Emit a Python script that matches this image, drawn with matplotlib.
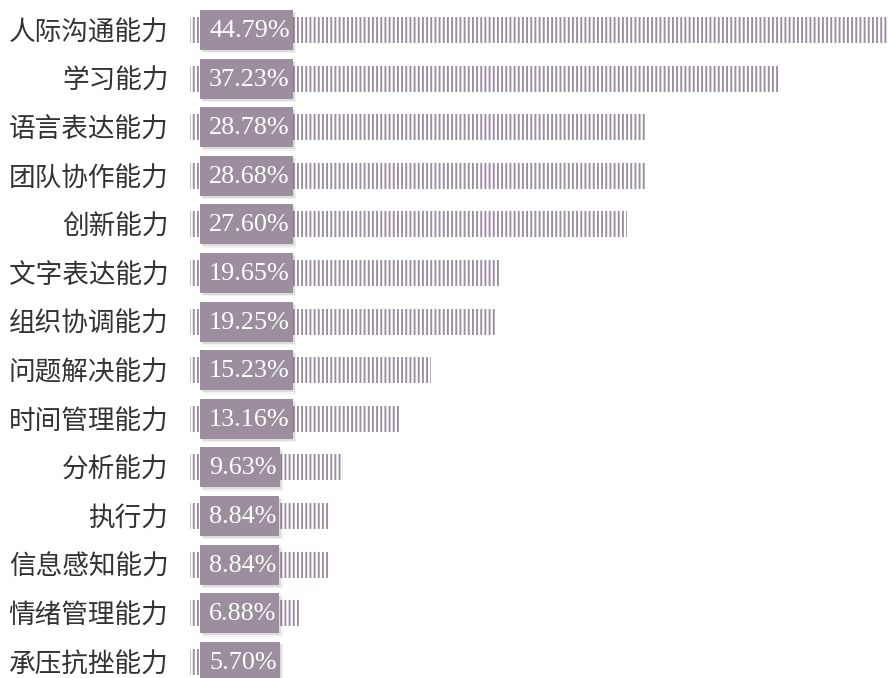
import matplotlib
matplotlib.use("Agg")
import matplotlib.pyplot as plt
import matplotlib.patheffects as pe
from matplotlib.patches import Rectangle

categories = ['人际沟通能力', '学习能力', '语言表达能力', '团队协作能力', '创新能力',
              '文字表达能力', '组织协调能力', '问题解决能力', '时间管理能力', '分析能力',
              '执行力', '信息感知能力', '情绪管理能力', '承压抗挫能力']
values = [44.79, 37.23, 28.78, 28.68, 27.60, 19.65, 19.25, 15.23, 13.16, 9.63,
          8.84, 8.84, 6.88, 5.70]
value_labels = [f"{v:.2f}%" for v in values]

BAR_COLOR = '#9b8d9f'
BOX_COLOR = '#9c8e9f'
TEXT_COLOR = '#333333'

plt.rcParams['hatch.linewidth'] = 1.35

W, H = 888, 678
fig = plt.figure(figsize=(W / 100, H / 100), dpi=100)
left_px = 190
ax = fig.add_axes([left_px / W, 0, 1 - left_px / W, 1])

px_per_unit = 15.85
ax.set_xlim(0, (W - left_px) / px_per_unit)
row_px = 48.6
top_px = 30
ax.set_ylim((H - top_px) / row_px, -top_px / row_px)

ypos = list(range(len(categories)))
ax.barh(ypos, values, height=0.535, facecolor='none', edgecolor=BAR_COLOR,
        linewidth=0, hatch='||||')

ax.set_yticks(ypos)
ax.set_yticklabels(categories, fontsize=19.2, color=TEXT_COLOR,
                   family=['Noto Sans CJK SC', 'DejaVu Sans'], fontweight='light')
ax.tick_params(axis='y', length=0, pad=15.5)
ax.set_xticks([])
for s in ax.spines.values():
    s.set_visible(False)

# value tags: a shaded box behind each percentage label
box_left_px = 200
text_pad_px = 9
box_h_px = 40
unit_per_px_x = 1 / px_per_unit
unit_per_px_y = 1 / row_px
renderer = fig.canvas.get_renderer()
shadow = [
    pe.SimplePatchShadow(offset=(2.5, -2.5), shadow_rgbFace='black', alpha=0.05),
    pe.SimplePatchShadow(offset=(1.5, -1.5), shadow_rgbFace='black', alpha=0.09),
    pe.Normal(),
]
for y, lab in zip(ypos, value_labels):
    tx = (box_left_px + text_pad_px - left_px) * unit_per_px_x
    t = ax.text(tx, y + 0.02, lab, ha='left', va='center', color='white',
                fontsize=18.8, family=['Liberation Serif'], zorder=4)
    ext = t.get_window_extent(renderer)
    x0 = (box_left_px - left_px) * unit_per_px_x
    x1 = (ext.x1 + 3 - left_px) * unit_per_px_x
    hh = box_h_px * unit_per_px_y
    r = Rectangle((x0, y - hh / 2), x1 - x0, hh, facecolor=BOX_COLOR,
                  edgecolor='none', zorder=3)
    r.set_path_effects(shadow)
    ax.add_patch(r)

fig.savefig('out.png', dpi=100)
